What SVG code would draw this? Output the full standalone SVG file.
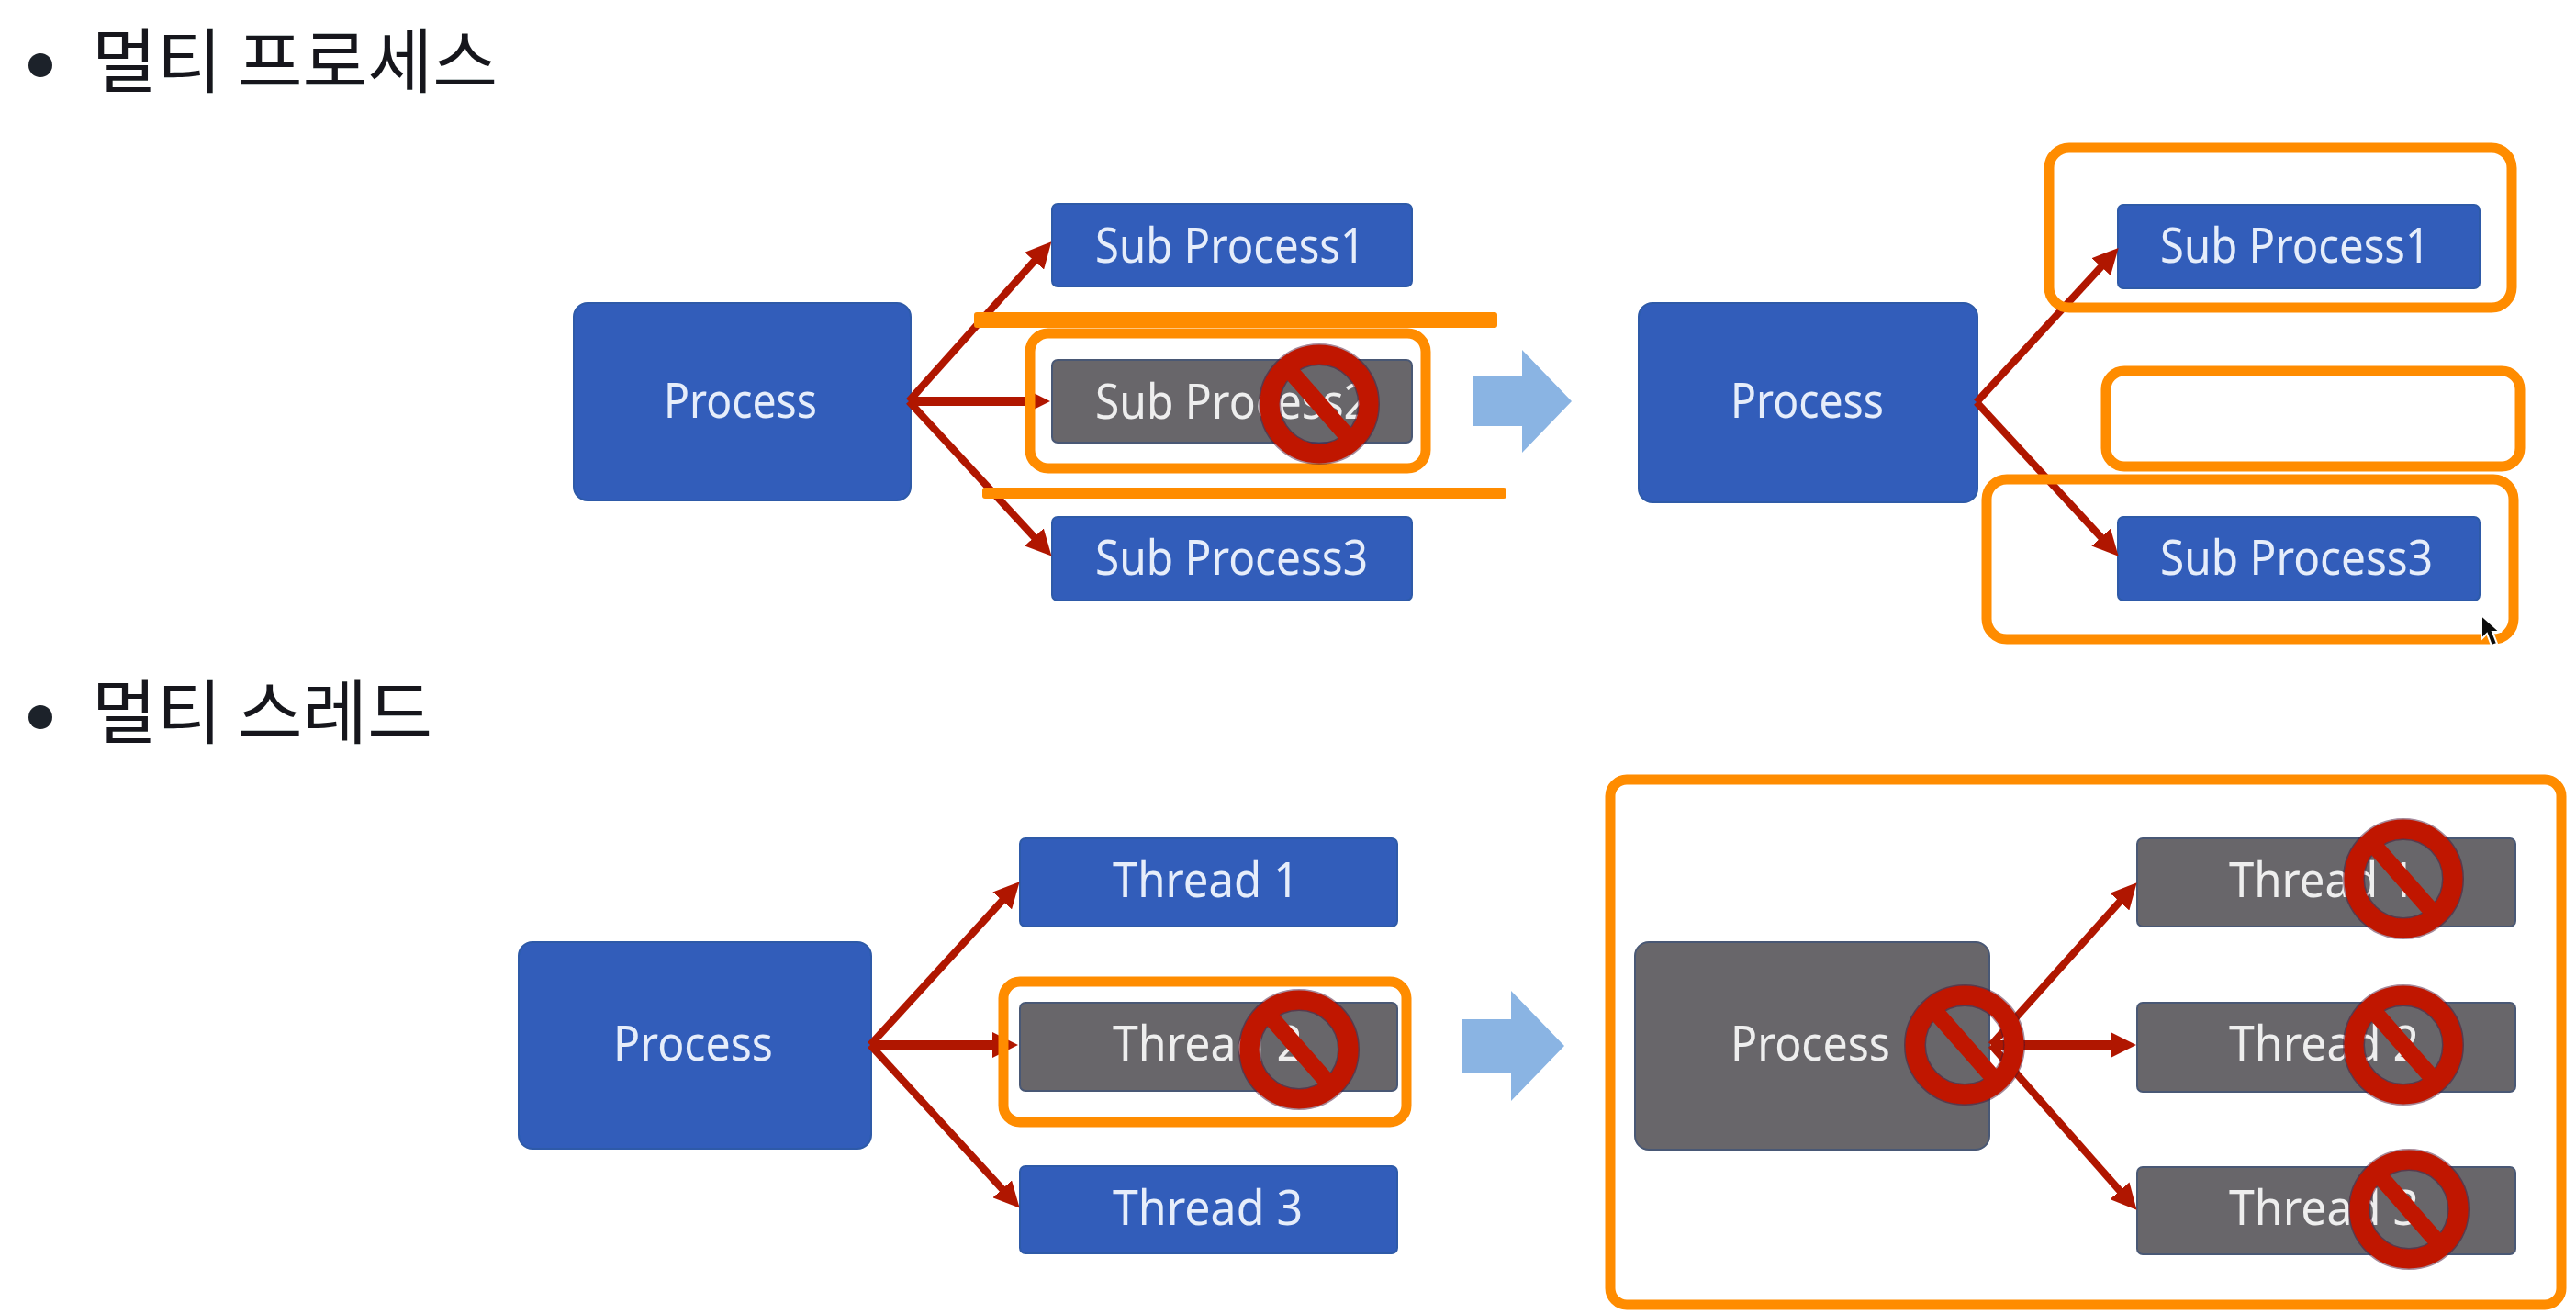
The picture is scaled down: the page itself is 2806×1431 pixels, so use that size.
<svg xmlns="http://www.w3.org/2000/svg" width="2806" height="1431" viewBox="0 0 2806 1431">
<style>
.blue{fill:#305dba;stroke:#2f5aa8;stroke-width:2}
.grey{fill:#68666a;stroke:#4a5874;stroke-width:2}
.lb{font-family:"Noto Sans","Open Sans",sans-serif;font-size:53px;fill:#e6edfa}
.lg{font-family:"Noto Sans","Open Sans",sans-serif;font-size:53px;fill:#eeeeee}
.title{font-family:"Noto Sans CJK KR","Noto Sans",sans-serif;font-size:76px;fill:#17181c}
.bullet{fill:#1e2129}
.conn{stroke:#b01500;stroke-width:8;fill:none;marker-end:url(#head)}
.mid{stroke-width:10}
.hl{fill:none;stroke:#ff8c00;stroke-width:11}
.bar{fill:#ff8c00}
.blk{fill:#8ab4e3}
</style>
<defs>
<filter id="soft" filterUnits="userSpaceOnUse" x="0" y="0" width="2806" height="1431"><feGaussianBlur stdDeviation="0.7"/></filter>
<marker id="head" markerUnits="userSpaceOnUse" markerWidth="28" markerHeight="28" viewBox="0 0 26 26" refX="14" refY="13" orient="auto"><path d="M0 0L26 13L0 26Z" fill="#b01500"/></marker>
<g id="no"><circle r="54" fill="none" stroke="#4a1030" stroke-opacity=".5" stroke-width="24"/><circle r="54" fill="none" stroke="#c01500" stroke-width="21"/><line x1="-36" y1="-41" x2="36" y2="41" stroke="#c01500" stroke-width="18"/></g>
</defs>
<rect width="2806" height="1431" fill="#ffffff"/>
<g filter="url(#soft)">
<g id="heading-1"><circle class="bullet" cx="44" cy="71" r="13"/><text class="title" x="100" y="95" textLength="442" lengthAdjust="spacingAndGlyphs">멀티 프로세스</text></g>
<g id="heading-2"><circle class="bullet" cx="44" cy="781" r="13"/><text class="title" x="100" y="804" textLength="371" lengthAdjust="spacingAndGlyphs">멀티 스레드</text></g>

<g id="mp-process-a"><rect class="blue" x="625" y="330" width="367" height="215" rx="15"/><text class="lb" x="723" y="455" textLength="167" lengthAdjust="spacingAndGlyphs">Process</text></g>
<g id="mp-sub1-a"><rect class="blue" x="1146" y="222" width="392" height="90" rx="6"/><text class="lb" x="1193" y="286" textLength="294" lengthAdjust="spacingAndGlyphs">Sub Process1</text></g>
<g id="mp-sub2-a"><rect class="grey" x="1146" y="392" width="392" height="90" rx="6"/><text class="lg" x="1193" y="456" textLength="298" lengthAdjust="spacingAndGlyphs">Sub Process2</text></g>
<g id="mp-sub3-a"><rect class="blue" x="1146" y="563" width="392" height="91" rx="6"/><text class="lb" x="1193" y="626" textLength="297" lengthAdjust="spacingAndGlyphs">Sub Process3</text></g>

<g id="mp-process-b"><rect class="blue" x="1785" y="330" width="369" height="217" rx="15"/><text class="lb" x="1885" y="455" textLength="167" lengthAdjust="spacingAndGlyphs">Process</text></g>
<g id="mp-sub1-b"><rect class="blue" x="2307" y="223" width="394" height="91" rx="6"/><text class="lb" x="2353" y="286" textLength="294" lengthAdjust="spacingAndGlyphs">Sub Process1</text></g>
<g id="mp-sub3-b"><rect class="blue" x="2307" y="563" width="394" height="91" rx="6"/><text class="lb" x="2353" y="626" textLength="297" lengthAdjust="spacingAndGlyphs">Sub Process3</text></g>

<g id="mt-process-a"><rect class="blue" x="565" y="1026" width="384" height="225" rx="15"/><text class="lb" x="668" y="1155" textLength="174" lengthAdjust="spacingAndGlyphs">Process</text></g>
<g id="mt-thread1-a"><rect class="blue" x="1111" y="913" width="411" height="96" rx="6"/><text class="lb" x="1212" y="977" textLength="203" lengthAdjust="spacingAndGlyphs">Thread 1</text></g>
<g id="mt-thread2-a"><rect class="grey" x="1111" y="1092" width="411" height="96" rx="6"/><text class="lg" x="1212" y="1155" textLength="207" lengthAdjust="spacingAndGlyphs">Thread 2</text></g>
<g id="mt-thread3-a"><rect class="blue" x="1111" y="1270" width="411" height="95" rx="6"/><text class="lb" x="1212" y="1334" textLength="207" lengthAdjust="spacingAndGlyphs">Thread 3</text></g>

<g id="mt-process-b"><rect class="grey" x="1781" y="1026" width="386" height="226" rx="15"/><text class="lg" x="1885" y="1155" textLength="174" lengthAdjust="spacingAndGlyphs">Process</text></g>
<g id="mt-thread1-b"><rect class="grey" x="2328" y="913" width="412" height="96" rx="6"/><text class="lg" x="2428" y="977" textLength="203" lengthAdjust="spacingAndGlyphs">Thread 1</text></g>
<g id="mt-thread2-b"><rect class="grey" x="2328" y="1092" width="412" height="97" rx="6"/><text class="lg" x="2428" y="1155" textLength="207" lengthAdjust="spacingAndGlyphs">Thread 2</text></g>
<g id="mt-thread3-b"><rect class="grey" x="2328" y="1271" width="412" height="95" rx="6"/><text class="lg" x="2428" y="1334" textLength="207" lengthAdjust="spacingAndGlyphs">Thread 3</text></g>

<g id="connectors">
<path class="conn" d="M990 437L1136.7 273"/>
<path class="conn mid" d="M990 437H1131"/>
<path class="conn" d="M990 437L1136.7 596"/>
<path class="conn" d="M2153 438L2298.9 279.5"/>
<path class="conn" d="M2153 438L2298.9 596.2"/>
<path class="conn" d="M948 1138L1101.9 969.8"/>
<path class="conn mid" d="M948 1138H1096"/>
<path class="conn" d="M948 1138L1101.9 1306"/>
<path class="conn" d="M2169 1138L2319 970.9"/>
<path class="conn mid" d="M2169 1138L2314 1138"/>
<path class="conn" d="M2169 1138L2319 1308"/>
</g>

<g id="highlights">
<rect class="bar" x="1061" y="340" width="570" height="17" rx="3"/>
<rect class="bar" x="1070" y="531" width="571" height="12" rx="3"/>
<rect class="hl" x="1122" y="363" width="431" height="147" rx="20"/>
<rect class="hl" x="2232" y="161" width="504" height="174" rx="22"/>
<rect class="hl" x="2294" y="404" width="451" height="104" rx="20"/>
<rect class="hl" x="2164" y="522" width="574" height="174" rx="22"/>
<rect class="hl" x="1093" y="1069" width="439" height="153" rx="18"/>
<rect class="hl" x="1754" y="849" width="1036" height="572" rx="18"/>
</g>

<g id="prohibit-signs">
<use href="#no" x="1437" y="440"/>
<use href="#no" x="1415" y="1143"/>
<use href="#no" x="2140" y="1138"/>
<use href="#no" x="2618" y="957"/>
<use href="#no" x="2618" y="1138"/>
<use href="#no" x="2624" y="1317"/>
</g>

<g id="block-arrows">
<path class="blk" d="M1605 410H1658V381L1712 437L1658 493V464H1605Z"/>
<path class="blk" d="M1593 1110H1646V1079L1704 1139L1646 1199V1169H1593Z"/>
</g>

<g id="cursor"><path d="M2703 670L2703 696L2709 690L2714 703L2720 701L2715 688L2723 688Z" fill="#111" stroke="#fff" stroke-width="2"/></g>
</g>
</svg>
